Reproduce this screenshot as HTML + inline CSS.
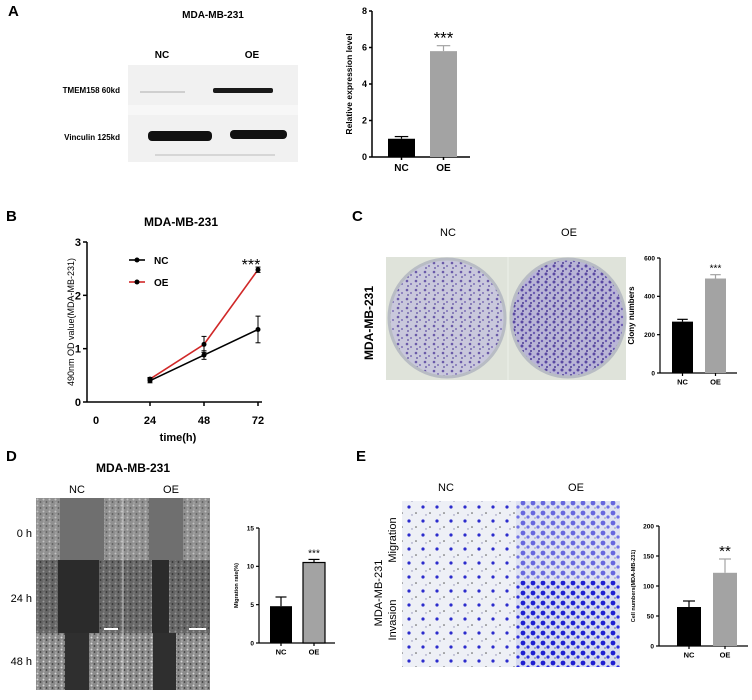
<!DOCTYPE html>
<html><head><meta charset="utf-8">
<style>
html,body{margin:0;padding:0;background:#fff;}
svg{display:block;font-family:"Liberation Sans",Arial,sans-serif;}
.b{font-weight:bold;}
</style></head>
<body>
<svg id="fig" width="752" height="700" viewBox="0 0 752 700" xmlns="http://www.w3.org/2000/svg">
<defs>
  <pattern id="purp" width="9" height="9" patternUnits="userSpaceOnUse">
    <rect width="9" height="9" fill="#c9c8dc"/>
    <circle cx="2" cy="2" r="1.3" fill="#6a5aa8"/>
    <circle cx="6" cy="5" r="1" fill="#7d6fb8"/>
    <circle cx="3" cy="7" r="0.9" fill="#5b4c9e"/>
  </pattern>
  <pattern id="purp2" width="8" height="8" patternUnits="userSpaceOnUse">
    <rect width="8" height="8" fill="#b9b5d6"/>
    <circle cx="2" cy="2" r="1.5" fill="#5a48a2"/>
    <circle cx="6" cy="5" r="1.2" fill="#6b5bb3"/>
    <circle cx="3" cy="7" r="1" fill="#4c3c94"/>
  </pattern>
  <pattern id="cells" width="6" height="6" patternUnits="userSpaceOnUse">
    <rect width="6" height="6" fill="#8a8a8a"/>
    <circle cx="1.5" cy="1.5" r="1" fill="#d8d8d8"/>
    <circle cx="4.5" cy="4" r="0.9" fill="#3a3a3a"/>
    <circle cx="2" cy="5" r="0.7" fill="#c0c0c0"/>
  </pattern>
  <pattern id="blue1" width="14" height="14" patternUnits="userSpaceOnUse">
    <rect width="14" height="14" fill="#eef0f6"/>
    <circle cx="3" cy="3" r="1.6" fill="#2c2ccc"/>
    <circle cx="10" cy="9" r="0.8" fill="#555"/>
    <circle cx="6" cy="11" r="0.7" fill="#8a8ab0"/>
  </pattern>
  <pattern id="blue2" width="10" height="10" patternUnits="userSpaceOnUse">
    <rect width="10" height="10" fill="#d8dcf0"/>
    <circle cx="3" cy="3" r="2.4" fill="#1e1ed0"/>
    <circle cx="8" cy="7" r="1.6" fill="#2a2ae0"/>
    <circle cx="5" cy="8" r="0.6" fill="#333"/>
  </pattern>
</defs>

<!-- ============ PANEL A ============ -->
<g>
  <text x="8" y="16" class="b" font-size="15">A</text>
  <text x="213" y="18" class="b" font-size="10" text-anchor="middle">MDA-MB-231</text>
  <text x="162" y="58" class="b" font-size="10" text-anchor="middle">NC</text>
  <text x="252" y="58" class="b" font-size="10" text-anchor="middle">OE</text>
  <rect x="128" y="65" width="170" height="97" fill="#f1f1f1"/>
  <rect x="128" y="105" width="170" height="10" fill="#f7f7f7"/>
  <rect x="213" y="88" width="60" height="5" rx="2" fill="#1a1a1a"/>
  <rect x="140" y="91" width="45" height="2" fill="#cfcfcf"/>
  <rect x="148" y="131" width="64" height="10" rx="4" fill="#111"/>
  <rect x="230" y="130" width="57" height="9" rx="4" fill="#111"/>
  <rect x="155" y="154" width="120" height="2" fill="#d6d6d6"/>
  <text x="120" y="93" class="b" font-size="8" text-anchor="end">TMEM158 60kd</text>
  <text x="120" y="140" class="b" font-size="8" text-anchor="end">Vinculin 125kd</text>
  <g id="chartA"></g>
</g>

<!-- ============ PANEL B ============ -->
<g>
  <text x="6" y="221" class="b" font-size="15">B</text>
  <text x="181" y="226" class="b" font-size="12" text-anchor="middle">MDA-MB-231</text>
  <g id="chartB"></g>
</g>

<!-- ============ PANEL C ============ -->
<g>
  <text x="352" y="221" class="b" font-size="15">C</text>
  <text x="448" y="236" font-size="11" text-anchor="middle">NC</text>
  <text x="569" y="236" font-size="11" text-anchor="middle">OE</text>
  <text transform="translate(373,323) rotate(-90)" class="b" font-size="12" text-anchor="middle">MDA-MB-231</text>
  <rect x="386" y="257" width="240" height="123" fill="#dfe3da"/>
  <ellipse cx="447" cy="318" rx="58" ry="59" fill="url(#purp)" stroke="#b8bcc4" stroke-width="3"/>
  <ellipse cx="568" cy="318" rx="57" ry="59" fill="url(#purp2)" stroke="#b8bcc4" stroke-width="3"/>
  <line x1="508" y1="257" x2="508" y2="380" stroke="#eef0ea" stroke-width="1"/>
  <g id="chartC"></g>
</g>

<!-- ============ PANEL D ============ -->
<g>
  <text x="6" y="461" class="b" font-size="15">D</text>
  <text x="133" y="472" class="b" font-size="12" text-anchor="middle">MDA-MB-231</text>
  <text x="77" y="493" font-size="11" text-anchor="middle">NC</text>
  <text x="171" y="493" font-size="11" text-anchor="middle">OE</text>
  <text x="32" y="537" font-size="11" text-anchor="end">0 h</text>
  <text x="32" y="602" font-size="11" text-anchor="end">24 h</text>
  <text x="32" y="665" font-size="11" text-anchor="end">48 h</text>
  <g>
    <rect x="36" y="498" width="174" height="192" fill="url(#cells)"/>
    <rect x="36" y="498" width="174" height="62" fill="#9a9a9a" opacity="0.35"/>
    <rect x="36" y="560" width="174" height="73" fill="#222" opacity="0.35"/>
    <rect x="60" y="498" width="44" height="62" fill="#6f6f6f"/>
    <rect x="149" y="498" width="34" height="62" fill="#6f6f6f"/>
    <rect x="58" y="560" width="41" height="73" fill="#2b2b2b"/>
    <rect x="152" y="560" width="17" height="73" fill="#2b2b2b"/>
    <rect x="65" y="633" width="24" height="57" fill="#2f2f2f"/>
    <rect x="153" y="633" width="23" height="57" fill="#2f2f2f"/>
    <line x1="123" y1="498" x2="123" y2="690" stroke="#ddd" stroke-width="0.8"/>
    <rect x="104" y="628" width="14" height="2" fill="#fff"/>
    <rect x="189" y="628" width="17" height="2" fill="#fff"/>
  </g>
  <g id="chartD"></g>
</g>

<!-- ============ PANEL E ============ -->
<g>
  <text x="356" y="461" class="b" font-size="15">E</text>
  <text x="446" y="491" font-size="11" text-anchor="middle">NC</text>
  <text x="576" y="491" font-size="11" text-anchor="middle">OE</text>
  <text transform="translate(396,540) rotate(-90)" font-size="11" text-anchor="middle">Migration</text>
  <text transform="translate(396,620) rotate(-90)" font-size="11" text-anchor="middle">Invasion</text>
  <text transform="translate(382,593) rotate(-90)" font-size="11" text-anchor="middle">MDA-MB-231</text>
  <g>
    <rect x="402" y="501" width="114" height="166" fill="url(#blue1)"/>
    <rect x="516" y="501" width="104" height="166" fill="url(#blue2)"/>
    <rect x="516" y="501" width="104" height="80" fill="#eef0f6" opacity="0.35"/>
  </g>
  <g id="chartE"></g>
</g>
</svg>

<script>
// ---- Panel A data ----
const aCategories = ["NC", "OE"];
const aValues = [1.0, 5.8];
const aErrors = [0.12, 0.3];
const aTicks = [0, 2, 4, 6, 8];
// ---- Panel B data ----
const bTimes = [24, 48, 72];
const bNC = [0.40, 0.88, 1.36];
const bNCErr = [0.04, 0.08, 0.25];
const bOE = [0.43, 1.08, 2.48];
const bOEErr = [0.03, 0.15, 0.05];
const bXTicks = [0, 24, 48, 72];
const bYTicks = [0, 1, 2, 3];
// ---- Panel C data ----
const cCategories = ["NC", "OE"];
const cValues = [268, 493];
const cErrors = [12, 20];
const cTicks = [0, 200, 400, 600];
// ---- Panel D data ----
const dCategories = ["NC", "OE"];
const dValues = [4.8, 10.5];
const dErrors = [1.2, 0.4];
const dTicks = [0, 5, 10, 15];
// ---- Panel E data ----
const eCategories = ["NC", "OE"];
const eValues = [65, 122];
const eErrors = [10, 23];
const eTicks = [0, 50, 100, 150, 200];

const NS = "http://www.w3.org/2000/svg";
function mk(parent, tag, attrs, text) {
  const e = document.createElementNS(NS, tag);
  for (const k in attrs) e.setAttribute(k, attrs[k]);
  if (text !== undefined) e.textContent = text;
  parent.appendChild(e);
  return e;
}

function barChart(id, cfg, cats, vals, errs, ticks) {
  const g = document.getElementById(id);
  const y = v => cfg.y0 - (v - ticks[0]) / (ticks[ticks.length - 1] - ticks[0]) * (cfg.y0 - cfg.yTop);
  const ax = mk(g, "line", {x1: cfg.ax, y1: cfg.yTop, x2: cfg.ax, y2: cfg.y0, stroke: "#000", "stroke-width": cfg.sw});
  
  
  const xl = mk(g, "line", {x1: cfg.ax, y1: cfg.y0, x2: cfg.axEnd, y2: cfg.y0, stroke: "#000", "stroke-width": cfg.sw});
  
  
  ticks.forEach(t => {
    mk(g, "line", {x1: cfg.ax - 3, y1: y(t), x2: cfg.ax, y2: y(t), stroke: "#000", "stroke-width": cfg.sw});
    const tl = mk(g, "text", {x: cfg.ax - 5, y: y(t) + cfg.fs * 0.35, "font-size": cfg.fs, "text-anchor": "end", "font-weight": "bold"}, t);
    
    
  });
  cats.forEach((c, i) => {
    const x0 = cfg.bx[i], w = cfg.bw;
    const top = y(vals[i]);
    const bar = mk(g, "rect", {x: x0, y: top, width: w, height: cfg.y0 - top, fill: i === 0 ? "#000" : "#a3a3a3",
      stroke: cfg.outline && i > 0 ? "#000" : "none", "stroke-width": 1.2});
    
    
    const cx = x0 + w / 2, et = y(vals[i] + errs[i]);
    const ec = i === 0 || cfg.outline ? "#000" : "#a3a3a3";
    mk(g, "line", {x1: cx, y1: top, x2: cx, y2: et, stroke: ec, "stroke-width": 1.2});
    mk(g, "line", {x1: cx - w * 0.25, y1: et, x2: cx + w * 0.25, y2: et, stroke: ec, "stroke-width": 1.2});
    mk(g, "line", {x1: cx, y1: cfg.y0, x2: cx, y2: cfg.y0 + 3, stroke: "#000", "stroke-width": cfg.sw});
    const lb = mk(g, "text", {x: cx, y: cfg.y0 + cfg.fs + 5, "font-size": cfg.fs + 1, "text-anchor": "middle", "font-weight": "bold"}, c);
    
    
  });
  const lastI = vals.length - 1;
  const st = mk(g, "text", {x: cfg.bx[lastI] + cfg.bw / 2, y: y(vals[lastI] + errs[lastI]) - cfg.starGap, "font-size": cfg.starFs, "text-anchor": "middle"}, cfg.star);
  
  
  const yt = mk(g, "text", {transform: `translate(${cfg.ylx},${(cfg.y0 + cfg.yTop) / 2}) rotate(-90)`, "font-size": cfg.ylfs, "text-anchor": "middle", "font-weight": "bold"}, cfg.ylabel);
  
  
}

barChart("chartA", {ax: 372, axEnd: 470, y0: 157, yTop: 11, sw: 1.5, fs: 9, bx: [388, 430], bw: 27,
  star: "***", starFs: 17, starGap: 2, ylx: 352, ylfs: 8.5, ylabel: "Relative expression level"},
  aCategories, aValues, aErrors, aTicks);
barChart("chartC", {ax: 660, axEnd: 737, y0: 373, yTop: 258, sw: 1.2, fs: 6.5, bx: [672, 705], bw: 21,
  star: "***", starFs: 10, starGap: 3, ylx: 634, ylfs: 8, ylabel: "Clony numbers"},
  cCategories, cValues, cErrors, cTicks);
barChart("chartD", {ax: 259, axEnd: 335, y0: 643, yTop: 528, sw: 1.2, fs: 6.5, bx: [270, 303], bw: 22, outline: true,
  star: "***", starFs: 10, starGap: 3, ylx: 238, ylfs: 5.5, ylabel: "Migration rate(%)"},
  dCategories, dValues, dErrors, dTicks);
barChart("chartE", {ax: 659, axEnd: 748, y0: 646, yTop: 526, sw: 1.2, fs: 6.5, bx: [677, 713], bw: 24,
  star: "**", starFs: 15, starGap: 3, ylx: 635, ylfs: 5.5, ylabel: "Cell numbers(MDA-MB-231)"},
  eCategories, eValues, eErrors, eTicks);

// ---- Line chart B ----
(function () {
  const g = document.getElementById("chartB");
  const x = t => 96 + (t - 0) / 72 * (258 - 96);
  const y = v => 402 - v / 3 * (402 - 242);
  const ya = mk(g, "line", {x1: 87, y1: 242, x2: 87, y2: 402, stroke: "#000", "stroke-width": 1.5});
  
  
  const xa = mk(g, "line", {x1: 87, y1: 402, x2: 262, y2: 402, stroke: "#000", "stroke-width": 1.5});
  
  
  bYTicks.forEach(t => {
    mk(g, "line", {x1: 83, y1: y(t), x2: 87, y2: y(t), stroke: "#000", "stroke-width": 1.5});
    const tl = mk(g, "text", {x: 81, y: y(t) + 4, "font-size": 11, "text-anchor": "end", "font-weight": "bold"}, t);
    
    
  });
  bXTicks.forEach(t => {
    if (t > 0) mk(g, "line", {x1: x(t), y1: 402, x2: x(t), y2: 406, stroke: "#000", "stroke-width": 1.5});
    const tl = mk(g, "text", {x: x(t), y: 424, "font-size": 11, "text-anchor": "middle", "font-weight": "bold"}, t);
    
    
  });
  const xt = mk(g, "text", {x: 178, y: 441, "font-size": 11, "text-anchor": "middle", "font-weight": "bold"}, "time(h)");
  
  
  const yt = mk(g, "text", {transform: "translate(74,322) rotate(-90)", "font-size": 9, "text-anchor": "middle"}, "490nm OD value(MDA-MB-231)");
  
  
  [[bNC, bNCErr, "#000", "nc"], [bOE, bOEErr, "#d02828", "oe"]].forEach(([vals, errs, col, nm]) => {
    const pts = bTimes.map((t, i) => x(t) + "," + y(vals[i])).join(" ");
    const pl = mk(g, "polyline", {points: pts, fill: "none", stroke: col, "stroke-width": 1.6});
    
    
    bTimes.forEach((t, i) => {
      const cx = x(t);
      mk(g, "line", {x1: cx, y1: y(vals[i] - errs[i]), x2: cx, y2: y(vals[i] + errs[i]), stroke: "#000", "stroke-width": 1});
      mk(g, "line", {x1: cx - 2.5, y1: y(vals[i] - errs[i]), x2: cx + 2.5, y2: y(vals[i] - errs[i]), stroke: "#000", "stroke-width": 1});
      mk(g, "line", {x1: cx - 2.5, y1: y(vals[i] + errs[i]), x2: cx + 2.5, y2: y(vals[i] + errs[i]), stroke: "#000", "stroke-width": 1});
      const p = mk(g, "circle", {cx: cx, cy: y(vals[i]), r: 2.5, fill: "#000"});
      
      
    });
  });
  [["NC", "#000", 260], ["OE", "#d02828", 282]].forEach(([lbl, col, ly]) => {
    const le = mk(g, "g", {});
    
    
    mk(le, "line", {x1: 129, y1: ly, x2: 145, y2: ly, stroke: col, "stroke-width": 1.6});
    mk(le, "circle", {cx: 137, cy: ly, r: 2.5, fill: "#000"});
    mk(le, "text", {x: 154, y: ly + 4, "font-size": 10, "font-weight": "bold"}, lbl);
  });
  const st = mk(g, "text", {x: 251, y: 270, "font-size": 16, "text-anchor": "middle"}, "***");
  
  
})();
</script>
</body></html>
